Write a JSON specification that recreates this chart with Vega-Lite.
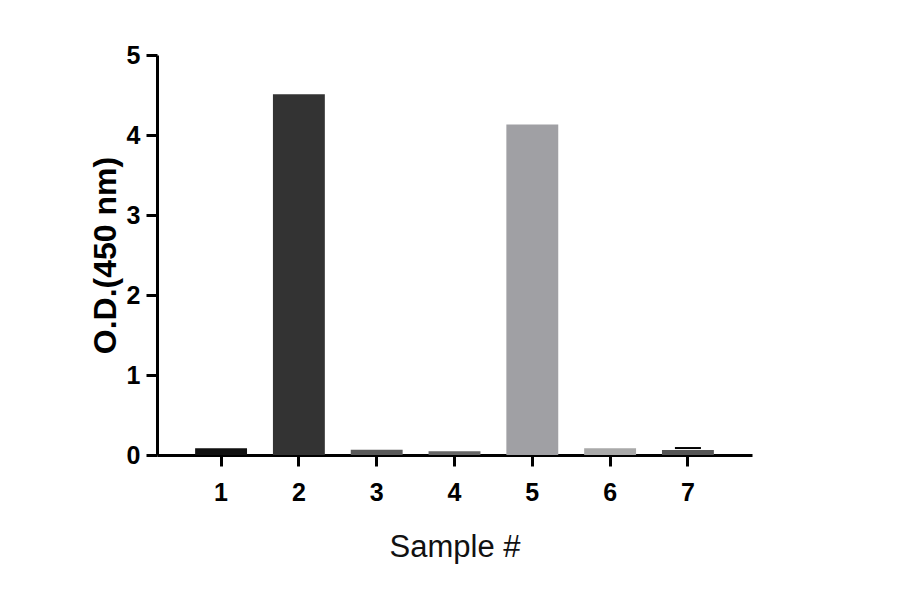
{
  "$schema": "https://vega.github.io/schema/vega-lite/v6.json",
  "background": "white",
  "autosize": "none",
  "padding": {"left": 157, "top": 55, "right": 148, "bottom": 139},
  "width": 595,
  "height": 400,
  "data": {
    "values": [
      {"sample": "1", "od": 0.085},
      {"sample": "2", "od": 4.51},
      {"sample": "3", "od": 0.065},
      {"sample": "4", "od": 0.048},
      {"sample": "5", "od": 4.13},
      {"sample": "6", "od": 0.085},
      {"sample": "7", "od": 0.062, "upper": 0.087}
    ]
  },
  "encoding": {
    "x": {
      "field": "sample",
      "type": "ordinal",
      "scale": {"paddingInner": 0.333, "paddingOuter": 0.49},
      "axis": {
        "title": "Sample #",
        "titleFont": "Liberation Sans",
        "titleFontSize": 31,
        "titleFontWeight": "normal",
        "titleColor": "#111",
        "titlePadding": 27,
        "labelAngle": 0,
        "labelFont": "Liberation Sans",
        "labelFontSize": 25,
        "labelFontWeight": "bold",
        "labelColor": "#000",
        "labelPadding": 14,
        "tickSize": 11,
        "tickWidth": 3,
        "tickColor": "#000",
        "domainColor": "#000",
        "domainWidth": 3,
        "grid": false
      }
    }
  },
  "layer": [
    {
      "mark": {"type": "bar"},
      "encoding": {
        "y": {
          "field": "od",
          "type": "quantitative",
          "scale": {"domain": [0, 5], "nice": false},
          "axis": {
            "title": "O.D.(450 nm)",
            "titleFont": "Liberation Sans",
            "titleFontSize": 32,
            "titleFontWeight": "bold",
            "titleColor": "#000",
            "titlePadding": 4,
            "values": [0, 1, 2, 3, 4, 5],
            "format": "d",
            "labelFont": "Liberation Sans",
            "labelFontSize": 25,
            "labelFontWeight": "bold",
            "labelColor": "#000",
            "labelPadding": 6,
            "tickSize": 11,
            "tickWidth": 3,
            "tickColor": "#000",
            "domainColor": "#000",
            "domainWidth": 3,
            "grid": false
          }
        },
        "color": {
          "field": "sample",
          "type": "nominal",
          "scale": {
            "domain": ["1", "2", "3", "4", "5", "6", "7"],
            "range": ["#111111", "#333333", "#595959", "#666666", "#a0a0a4", "#a9a9a9", "#555555"]
          },
          "legend": null
        }
      }
    },
    {
      "mark": {"type": "tick", "color": "#000", "thickness": 2, "size": 26, "opacity": 1},
      "transform": [{"filter": "isValid(datum.upper)"}],
      "encoding": {
        "y": {"field": "upper", "type": "quantitative"}
      }
    }
  ],
  "config": {
    "view": {"stroke": null}
  }
}
